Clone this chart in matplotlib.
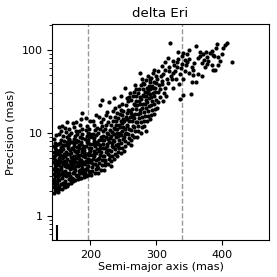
import numpy as np
import matplotlib
matplotlib.use("Agg")
import matplotlib.pyplot as plt
from matplotlib.ticker import FuncFormatter

# (semi-major axis [mas], precision [mas]), grouped by separation
inner = [
    (145, 1.9), (146, 2.05), (144.5, 2.2), (147, 2.35), (145.5, 2.5), (148, 2.65), (144.8, 2.8), (146.5, 3.0),
    (145, 3.2), (147.5, 3.4), (144.6, 3.65), (146, 3.9), (148.5, 4.1), (145, 4.4), (147, 4.7), (144.7, 5.0),
    (146.5, 5.4), (145.2, 5.9), (148, 6.3), (145, 6.9), (146.8, 7.6), (145.5, 8.5), (147.5, 2.2), (149, 2.5),
    (149.5, 3.0), (149, 3.7), (149.8, 4.6), (150, 5.6), (149.2, 2.0), (150.5, 3.3),
    (151, 1.95), (152, 2.3), (153, 2.7), (151.5, 2.9), (154, 3.2), (152.5, 3.6), (155, 3.9), (151, 4.3),
    (153.5, 4.8), (156, 5.2), (152, 5.7), (154.5, 6.2), (157, 6.8), (151.5, 7.4), (155, 8.1), (153, 9.6),
    (156.5, 2.1), (158, 2.5), (157, 2.9), (159, 3.4), (156, 3.7), (158.5, 4.2), (160, 4.6), (157.5, 5.0),
    (159.5, 5.6), (156, 6.0), (158, 7.2), (160, 8.0), (155, 10.5), (159, 9.2), (152, 5.0), (154, 4.4),
    (158, 3.1), (160, 2.3), (153, 2.1), (155.5, 2.45),
    (161, 2.2), (162, 2.6), (163, 3.0), (161.5, 3.5), (164, 3.9), (162.5, 4.3), (165, 4.8), (161, 5.3),
    (163.5, 5.9), (166, 6.5), (162, 7.1), (164.5, 7.8), (167, 8.5), (165, 13.6), (163, 10.2), (168, 9.4),
    (166.5, 2.4), (168, 2.8), (167, 3.3), (169, 3.7), (166, 4.1), (168.5, 4.6), (170, 5.1), (167.5, 5.6),
    (169.5, 6.2), (166, 6.9), (168, 7.5), (170, 2.6), (164, 2.3), (169, 4.0), (162, 4.0), (165, 3.1),
    (161, 11.5), (167, 11.0),
    (171, 2.5), (172, 2.9), (173, 3.3), (171.5, 3.8), (174, 4.2), (172.5, 4.7), (175, 5.2), (171, 5.8),
    (173.5, 6.4), (176, 7.0), (172, 7.7), (174.5, 8.4), (177, 9.2), (175, 11.8), (178, 10.5), (176.5, 2.7),
    (178, 3.1), (177, 3.6), (179, 4.0), (176, 4.5), (178.5, 5.0), (180, 5.6), (177.5, 6.1), (179.5, 6.8),
    (176, 7.5), (178, 8.2), (180, 3.0), (174, 2.6), (179, 4.4), (172, 4.1), (175, 3.4), (173, 13.0),
    (181, 2.75), (182, 3.1), (183, 3.5), (181.5, 4.0), (184, 4.4), (182.5, 4.9), (185, 5.4), (181, 6.0),
    (183.5, 6.6), (186, 7.3), (182, 8.0), (184.5, 8.8), (187, 9.6), (185, 12.5), (188, 11.0), (186.5, 2.9),
    (188, 3.3), (187, 3.8), (189, 4.2), (186, 4.7), (188.5, 5.2), (190, 5.8), (187.5, 6.4), (189.5, 7.0),
    (186, 7.8), (188, 17.4), (190, 3.2), (184, 2.9), (189, 4.5), (182, 4.3), (185, 3.6), (183, 10.5),
    (191, 2.95), (192, 3.3), (193, 3.7), (191.5, 4.2), (194, 4.6), (192.5, 5.1), (195, 5.6), (191, 6.2),
    (193.5, 6.9), (196, 7.6), (192, 8.4), (194.5, 9.2), (197, 10.1), (195, 12.0), (198, 11.2), (196.5, 3.1),
    (198, 3.5), (197, 4.0), (199, 4.4), (196, 4.9), (198.5, 5.4), (200, 6.0), (197.5, 6.6), (199.5, 7.3),
    (196, 8.1), (198, 8.9), (200, 3.4), (194, 3.0), (199, 4.7), (192, 4.5), (195, 3.8), (193, 15.0),
    (199, 14.0),
]

# extra irregular points filling the crowded lower-left part
inner_extra = [
    (144.3, 2.62), (145.8, 3.47), (146.9, 4.23), (144.9, 5.21), (147.8, 5.73), (146.1, 6.62), (148.7, 7.1),
    (150.7, 2.18), (151.8, 3.12), (152.7, 4.05), (153.9, 5.46), (155.7, 6.72), (150.4, 6.05), (154.2, 7.55),
    (156.8, 3.28), (157.9, 4.48), (159.3, 5.14), (158.7, 6.38), (161.7, 2.41), (162.9, 3.27), (163.8, 4.61),
    (164.9, 5.56), (166.9, 7.3), (168.3, 8.15), (169.7, 3.05), (170.8, 4.37), (171.9, 6.66), (173.6, 2.81),
    (174.7, 3.77), (175.8, 4.85), (176.9, 6.02), (177.7, 7.8), (179.2, 9.6), (180.6, 4.1), (181.8, 5.1),
    (182.9, 7.1), (184.1, 3.26), (185.7, 4.15), (186.8, 5.95), (187.9, 8.7), (189.3, 3.6), (190.6, 6.7),
    (191.8, 3.58), (193.2, 5.5), (194.8, 7.8), (196.7, 4.45), (197.8, 5.75), (199.2, 9.8), (148.2, 9.3),
    (152.9, 11.8), (157.8, 12.2), (163.9, 8.9), (170.6, 9.9), (178.9, 13.4), (186.2, 14.6), (193.8, 10.7),
    (203.7, 4.2), (205.6, 5.6), (207.8, 7.6), (209.7, 3.95), (212.9, 5.05), (214.7, 7.05), (218.7, 10.5),
    (221.8, 4.45), (224.6, 6.2), (226.8, 8.4), (229.7, 5.25), (232.8, 7.0), (235.7, 9.7), (238.8, 13.8),
    (242.7, 6.9), (245.6, 11.8), (248.8, 16.3), (252.7, 9.6), (255.8, 14.8), (259.7, 18.2), (263.8, 16.4),
    (268.7, 28.0), (274.8, 22.1), (279.6, 33.5), (284.8, 27.5), (289.8, 41.0), (294.8, 35.0),
]

middle = [
    (201, 3.1), (202, 3.5), (203, 3.9), (201.5, 4.4), (204, 4.9), (202.5, 5.4), (205, 6.0), (201, 6.6),
    (203.5, 7.3), (206, 8.0), (202, 8.9), (204.5, 9.8), (207, 10.8), (205, 12.5), (208, 16.5), (206.5, 3.3),
    (208, 3.7), (207, 4.2), (209, 4.7), (206, 5.2), (208.5, 5.8), (210, 6.4), (207.5, 7.0), (209.5, 7.8),
    (206, 8.6), (208, 9.5), (210, 11.5), (204, 13.8),
    (211, 3.3), (212, 3.8), (213, 4.3), (211.5, 4.8), (214, 5.4), (212.5, 6.0), (215, 6.6), (211, 7.3),
    (213.5, 8.1), (216, 9.0), (212, 10.0), (214.5, 11.0), (217, 12.2), (215, 21.7), (218, 25.0), (216.5, 3.6),
    (218, 4.1), (217, 4.7), (219, 5.3), (216, 5.9), (218.5, 6.6), (220, 7.3), (217.5, 8.2), (219.5, 9.1),
    (216, 13.5), (220, 14.8), (213, 15.5),
    (221, 3.6), (222, 4.1), (223, 4.7), (221.5, 5.3), (224, 5.9), (222.5, 6.6), (225, 7.3), (221, 8.1),
    (223.5, 9.0), (226, 10.0), (222, 11.1), (224.5, 12.3), (227, 13.6), (228, 23.6), (226, 18.0), (226.5, 4.2),
    (228, 4.8), (227, 5.5), (229, 6.2), (226, 7.0), (228.5, 7.8), (230, 8.7), (227.5, 9.7), (229.5, 10.8),
    (230, 15.5), (224, 16.5),
    (231, 4.0), (232, 4.6), (233, 5.3), (231.5, 6.0), (234, 6.7), (232.5, 7.5), (235, 8.3), (231, 9.2),
    (233.5, 10.2), (236, 11.3), (232, 12.5), (234.5, 14.0), (237, 15.5), (238, 20.0), (236, 26.0), (236.5, 4.9),
    (238, 5.6), (237, 6.4), (239, 7.2), (236, 8.0), (238.5, 9.0), (240, 10.0), (237.5, 11.2), (239.5, 12.5),
    (240, 17.5), (234, 18.5),
    (241, 5.2), (242, 5.9), (243, 6.6), (241.5, 7.4), (244, 8.2), (242.5, 9.1), (245, 10.1), (241, 11.2),
    (243.5, 12.4), (246, 13.8), (242, 15.3), (244.5, 17.0), (247, 19.0), (248, 22.5), (246, 28.0), (246.5, 5.8),
    (248, 6.6), (247, 7.5), (249, 8.4), (246, 9.4), (248.5, 10.5), (250, 11.8), (247.5, 13.2), (249.5, 14.8),
    (250, 18.5), (244, 21.0),
    (251, 6.0), (252, 7.0), (253, 8.0), (251.5, 9.0), (254, 10.0), (252.5, 11.2), (255, 12.5), (251, 14.0),
    (253.5, 15.6), (256, 17.4), (253, 35.0), (254.5, 21.5), (257, 24.0), (258, 27.0), (256.5, 7.6), (258, 8.6),
    (257, 9.8), (259, 11.0), (256, 12.2), (258.5, 13.8), (260, 15.5), (257.5, 19.0), (259.5, 30.0), (255, 26.5),
    (261, 7.2), (262, 8.3), (263, 9.5), (261.5, 10.8), (264, 12.2), (262.5, 13.8), (265, 15.5), (261, 17.5),
    (263.5, 19.5), (266, 22.0), (262, 25.0), (264.5, 28.0), (267, 31.5), (268, 38.0), (266.5, 9.0), (268, 10.4),
    (267, 11.8), (269, 13.4), (266, 15.0), (268.5, 17.0), (270, 19.2), (267.5, 21.8), (269.5, 24.5), (270, 34.0),
    (271, 9.0), (272, 10.5), (273, 12.0), (271.5, 13.5), (274, 15.2), (272.5, 17.0), (275, 19.0), (271, 21.5),
    (273.5, 24.0), (276, 27.0), (272, 30.0), (274.5, 34.0), (277, 38.0), (276, 53.0), (278, 44.0), (276.5, 10.0),
    (278, 11.8), (277, 13.5), (279, 15.5), (276, 17.5), (278.5, 20.0), (280, 22.5), (277.5, 25.5), (279.5, 29.0),
    (280, 40.0),
    (281, 12.0), (282, 13.8), (283, 15.8), (281.5, 17.8), (284, 20.0), (282.5, 22.5), (285, 25.0), (281, 28.0),
    (283.5, 31.0), (286, 35.0), (282, 39.0), (284.5, 43.0), (287, 48.0), (288, 30.0), (286.5, 14.0), (288, 16.0),
    (287, 18.5), (289, 21.0), (286, 23.5), (288.5, 26.5), (290, 29.5), (287.5, 33.0), (289.5, 37.0), (290, 45.0),
    (285, 10.5),
    (291, 14.5), (292, 16.5), (293, 19.0), (291.5, 21.5), (294, 24.0), (292.5, 27.0), (295, 30.0), (291, 33.5),
    (293.5, 37.0), (296, 41.0), (292, 46.0), (294.5, 52.0), (297, 58.0), (298, 35.0), (296.5, 17.0), (298, 19.5),
    (297, 22.0), (299, 25.0), (296, 28.0), (298.5, 31.5), (300, 40.0), (299.5, 48.0),
]

outer = [
    (301, 20.0), (303, 23.5), (305, 27.0), (302, 31.0), (306, 34.0), (304, 38.0), (308, 39.0), (301, 45.0),
    (307, 48.0), (311, 51.0), (303, 55.0), (309, 42.0), (312, 30.0), (310, 24.5), (314, 35.0), (316, 45.0),
    (313, 58.0), (318, 40.0), (315, 28.0), (320, 56.0), (321, 120.0), (322, 48.0), (324, 44.6), (319, 63.0),
    (325, 35.0), (326, 52.0), (327, 66.0), (329, 56.0), (330, 45.0), (331, 62.0), (331, 71.0), (333, 78.0),
    (334, 39.0), (336, 51.0), (336, 25.6), (338, 60.0), (339, 68.0), (339, 85.0), (340, 92.0), (341, 44.6),
    (341, 28.4), (343, 55.0), (344, 75.0), (345, 66.0), (347, 72.0), (349, 78.0), (349, 53.0), (350, 100.0),
    (352, 29.5), (354, 41.0), (355, 63.0), (356, 57.0), (356, 50.0), (358, 70.0), (361, 110.0), (361, 41.0),
    (363, 80.0), (364, 51.0), (366, 93.0), (367, 85.0), (369, 70.0), (370, 49.0), (371, 89.0), (372, 76.0),
    (374, 62.0), (376, 95.0), (377, 68.0), (377, 82.0), (379, 74.0), (382, 91.0), (384, 98.0), (385, 65.0),
    (386, 86.0), (386, 57.0), (388, 85.0), (389, 57.0), (390, 104.0), (392, 118.0), (394, 82.0), (394, 65.0),
    (397, 73.0), (399, 90.0), (402, 105.0), (405, 115.0), (407, 120.0), (415, 71.0), (333, 95.0), (346, 88.0),
    (326, 73.0), (318, 80.0), (309, 64.0), (314, 72.0),
]

limit_lines = [196, 339]      # dashed vertical markers
min_sep = 150                 # short black bar at the bottom
min_sep_top = 0.78

pts = np.array(inner + inner_extra + middle + outer)
sma, prec = pts[:, 0], pts[:, 1]

fig = plt.figure(figsize=(2.77, 2.77), dpi=100)
ax = fig.add_axes([0.188, 0.134, 0.783, 0.78])

ax.scatter(sma, prec, s=9, c='k', linewidths=0, zorder=3)
for xl in limit_lines:
    ax.axvline(xl, color='grey', ls='--', lw=1, alpha=0.8, zorder=1)
ax.vlines(min_sep, 0.3, min_sep_top, color='k', lw=1.5, zorder=4)

ax.set_yscale('log')
ax.set_xlim(142, 471)
ax.set_ylim(0.514, 206)
ax.set_xticks([200, 300, 400])
ax.yaxis.set_major_formatter(FuncFormatter(lambda v, p: '%g' % v))
ax.tick_params(labelsize=8)
ax.set_xlabel('Semi-major axis (mas)', fontsize=8, labelpad=2)
ax.set_ylabel('Precision (mas)', fontsize=8, labelpad=4)
ax.set_title('delta Eri', fontsize=9.6, pad=5)

fig.savefig('out.png', dpi=100)
